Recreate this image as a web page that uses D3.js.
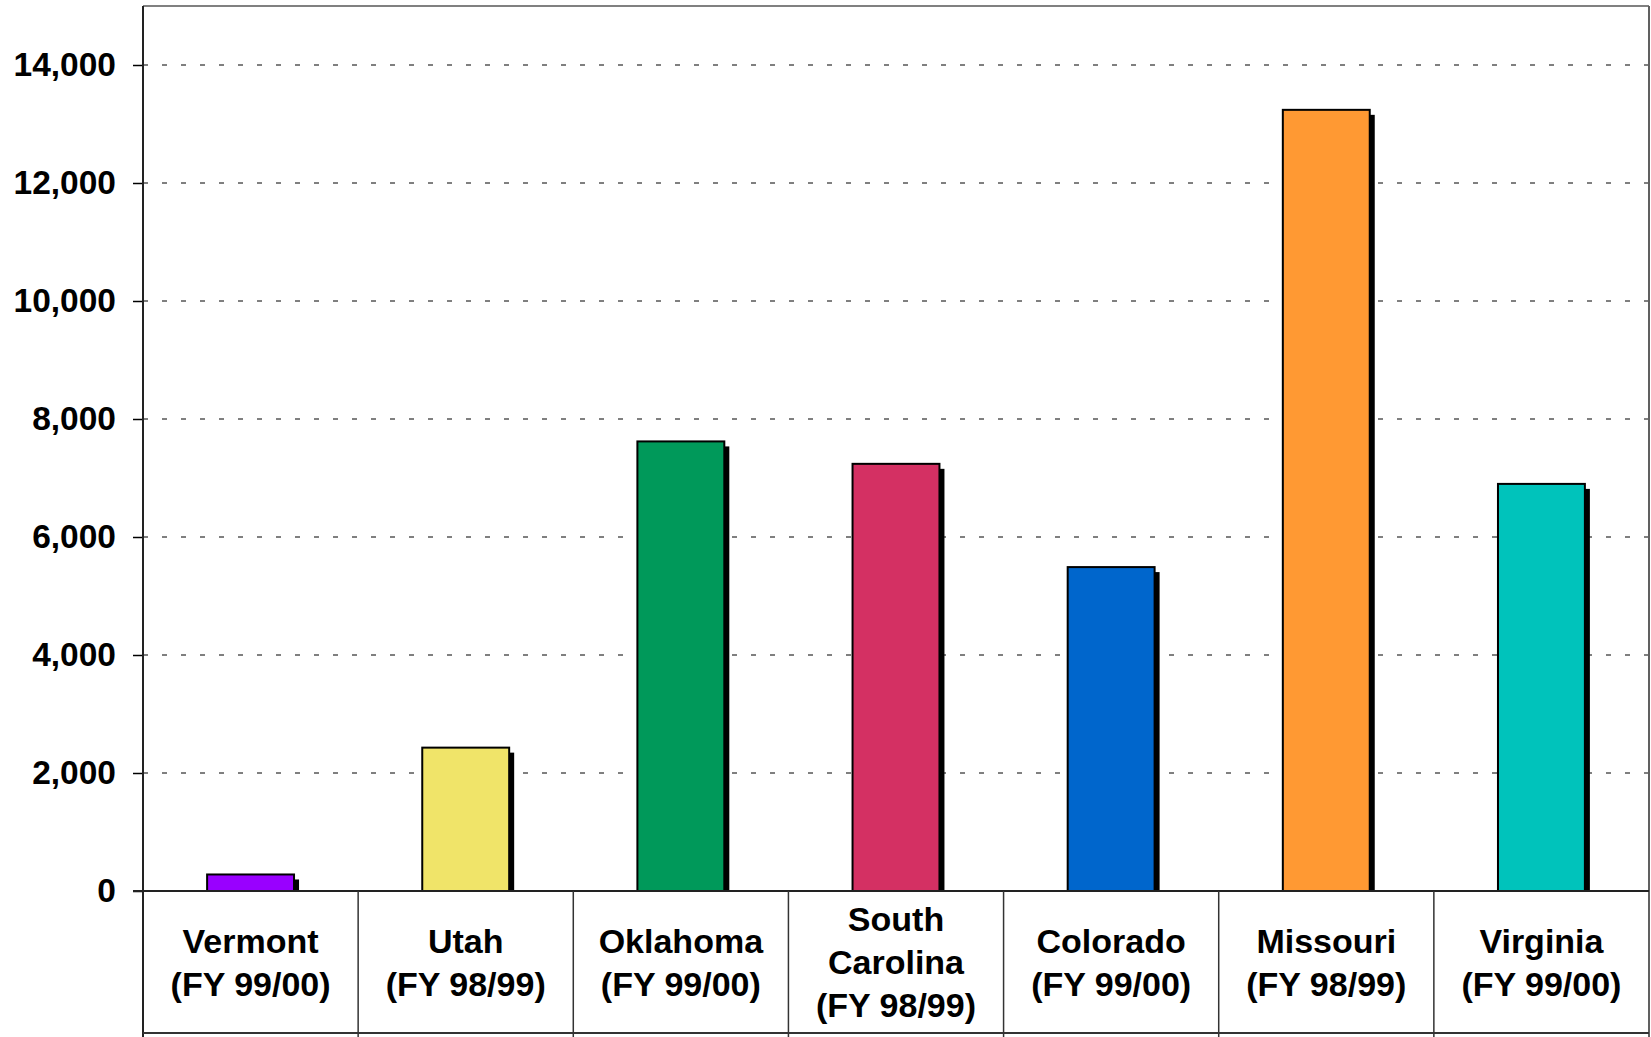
<!DOCTYPE html>
<html>
<head>
<meta charset="utf-8">
<script src="https://cdn.jsdelivr.net/npm/d3@7"></script>
<style>
  html, body { margin: 0; padding: 0; background: #fff; }
  svg { display: block; }
  text { font-family: "Liberation Sans", Arial, sans-serif; font-weight: bold; fill: #000; }
</style>
</head>
<body>
<svg id="chart" width="1651" height="1037"></svg>
<script>
const categories = ["Vermont", "Utah", "Oklahoma", "South Carolina", "Colorado", "Missouri", "Virginia"];
const labelLines = [
  ["Vermont", "(FY 99/00)"],
  ["Utah", "(FY 98/99)"],
  ["Oklahoma", "(FY 99/00)"],
  ["South", "Carolina", "(FY 98/99)"],
  ["Colorado", "(FY 99/00)"],
  ["Missouri", "(FY 98/99)"],
  ["Virginia", "(FY 99/00)"]
];
const values = [280, 2430, 7620, 7240, 5490, 13240, 6900];
const colors = ["#9900FF", "#F0E469", "#00995A", "#D43063", "#0066CC", "#FF9933", "#00C3BB"];
const yTicks = [0, 2000, 4000, 6000, 8000, 10000, 12000, 14000];
const yMax = 15000;

(function () {
const svg = d3.select("#chart");
const pLeft = 143, pRight = 1649, pTop = 6, zeroY = 891, tableBottom = 1033;

const x = d3.scaleBand().domain(categories).range([pLeft, pRight]).padding(0);
const y = d3.scaleLinear().domain([0, yMax]).range([zeroY, pTop]);
const barW = x.bandwidth() * 0.404;
const fmt = d3.format(",");

// gridlines (dotted)
svg.append("g").selectAll("line")
  .data(yTicks.filter(d => d > 0))
  .join("line")
  .attr("x1", pLeft).attr("x2", pRight)
  .attr("y1", d => y(d)).attr("y2", d => y(d))
  .attr("stroke", "#000").attr("stroke-width", 1)
  .attr("stroke-dasharray", "5,14");

// plot frame top/right
svg.append("line").attr("x1", pLeft).attr("x2", pRight).attr("y1", pTop).attr("y2", pTop)
  .attr("stroke", "#808080").attr("stroke-width", 2);
svg.append("line").attr("x1", pRight).attr("x2", pRight).attr("y1", pTop).attr("y2", 1037)
  .attr("stroke", "#606060").attr("stroke-width", 2);

// y axis
const yAxis = d3.axisLeft(y).tickValues(yTicks).tickFormat(fmt).tickSize(10).tickPadding(17);
const gy = svg.append("g").attr("transform", `translate(${pLeft},0)`).call(yAxis);
gy.select(".domain").remove();
gy.selectAll(".tick line").attr("stroke", "#000").attr("stroke-width", 1.5);
gy.selectAll(".tick text").style("font-size", "33.5px").style("font-family", "'Liberation Sans', Arial, sans-serif")
  .style("font-weight", "bold").attr("fill", "#000");
svg.append("line").attr("x1", pLeft).attr("x2", pLeft).attr("y1", pTop).attr("y2", 1037)
  .attr("stroke", "#222").attr("stroke-width", 2);

// bars: shadow then bar
const bars = svg.append("g");
bars.selectAll("rect.shadow")
  .data(values)
  .join("rect")
  .attr("class", "shadow")
  .attr("x", (d, i) => x(categories[i]) + x.bandwidth() / 2 - barW / 2 + 5)
  .attr("y", d => y(d) + 5)
  .attr("width", barW)
  .attr("height", d => Math.max(0, zeroY - y(d) - 5))
  .attr("fill", "#000");
bars.selectAll("rect.bar")
  .data(values)
  .join("rect")
  .attr("class", "bar")
  .attr("x", (d, i) => x(categories[i]) + x.bandwidth() / 2 - barW / 2)
  .attr("y", d => y(d))
  .attr("width", barW)
  .attr("height", d => zeroY - y(d))
  .attr("fill", (d, i) => colors[i])
  .attr("stroke", "#000").attr("stroke-width", 2);

// zero axis line and table
svg.append("line").attr("x1", pLeft - 10).attr("x2", pRight).attr("y1", zeroY).attr("y2", zeroY)
  .attr("stroke", "#222").attr("stroke-width", 2);
svg.append("line").attr("x1", pLeft).attr("x2", pRight).attr("y1", tableBottom).attr("y2", tableBottom)
  .attr("stroke", "#333").attr("stroke-width", 2);
svg.append("g").selectAll("line")
  .data(categories.slice(1))
  .join("line")
  .attr("x1", d => x(d)).attr("x2", d => x(d))
  .attr("y1", zeroY).attr("y2", 1037)
  .attr("stroke", "#333").attr("stroke-width", 1.5);

// category labels
const lineH = 43;
const midY = (zeroY + tableBottom) / 2 + 12;
const lab = svg.append("g").selectAll("text")
  .data(categories)
  .join("text")
  .attr("text-anchor", "middle")
  .style("font-size", "34px");
lab.each(function(d, i) {
  const lines = labelLines[i];
  const t = d3.select(this);
  const start = midY - (lines.length - 1) * lineH / 2;
  lines.forEach((ln, j) => {
    t.append("tspan").attr("x", x(d) + x.bandwidth() / 2).attr("y", start + j * lineH).text(ln);
  });
});
})();
</script>
</body>
</html>
